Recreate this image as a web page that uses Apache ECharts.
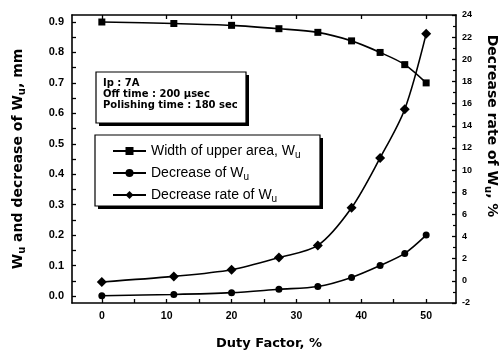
<!DOCTYPE html>
<html><head><meta charset="utf-8">
<script src="https://cdn.jsdelivr.net/npm/echarts@6/dist/echarts.min.js"></script>
<style>html,body{margin:0;padding:0;background:#fff}#c{width:502px;height:350px}</style>
</head><body><div id="c"></div>
<script>
const duty = [0, 11.1, 20, 27.3, 33.3, 38.5, 42.9, 46.7, 50];
const widthUpper = [0.9, 0.895, 0.889, 0.878, 0.866, 0.838, 0.80, 0.76, 0.70];
const decreaseW = [0.001, 0.005, 0.011, 0.022, 0.031, 0.061, 0.10, 0.14, 0.20];
const decreaseRate = [-0.1, 0.4, 1.0, 2.1, 3.2, 6.6, 11.1, 15.5, 22.3];
const xLabels = [0, 10, 20, 30, 40, 50];
const xTicks = [0, 5, 10, 15, 20, 25, 30, 35, 40, 45, 50];
const leftLabels = [0, 0.1, 0.2, 0.3, 0.4, 0.5, 0.6, 0.7, 0.8, 0.9];
const leftTicks = [0, 0.05, 0.1, 0.15, 0.2, 0.25, 0.3, 0.35, 0.4, 0.45, 0.5, 0.55, 0.6, 0.65, 0.7, 0.75, 0.8, 0.85, 0.9];
const seriesNames = ['Width of upper area, W', 'Decrease of W', 'Decrease rate of W'];
const infoLines = ['Ip : 7A', 'Off time : 200 \u00b5sec', 'Polishing time : 180 sec'];

const LIB = 'Liberation Sans, Arial, sans-serif';
const DJ = 'DejaVu Sans, sans-serif';
const pair = a => duty.map((x, i) => [x, a[i]]);
const chart = echarts.init(document.getElementById('c'));
const lineW = 1.6;
const tickStyle = {color:'#000', width:1.3};
const subT = {s:{fontSize:10, padding:[8,0,0,0], fontFamily:DJ, fontWeight:'bold', color:'#000'}};
const subN = {s:{fontSize:10, padding:[8,0,0,0], fontFamily:LIB, color:'#000'}};

function shadowBox(x, y, w, h){
  return [
    {type:'rect', z:1, shape:{x:x+3, y:y+3, width:w, height:h}, style:{fill:'#000'}},
    {type:'rect', z:2, shape:{x:x, y:y, width:w, height:h}, style:{fill:'#fff', stroke:'#000', lineWidth:1.2}}
  ];
}

const option = {
  animation:false,
  grid:{left:72, right:46, top:15, bottom:47, containLabel:false, outerBoundsMode:'none'},
  xAxis:[
    {type:'value', min:-4.6, max:54.6, position:'bottom', splitLine:{show:false},
      axisLine:{show:true, onZero:false, lineStyle:{color:'#000', width:lineW}},
      axisTick:{show:true, inside:true, length:4, customValues:xTicks, lineStyle:tickStyle},
      axisLabel:{show:true, margin:8, customValues:xLabels, color:'#000', fontFamily:LIB, fontWeight:'bold', fontSize:10.5},
      name:'Duty Factor, %', nameLocation:'middle', nameGap:34,
      nameTextStyle:{color:'#000', fontFamily:DJ, fontWeight:'bold', fontSize:13, padding:[0,0,0,10]}},
    {type:'value', min:-4.6, max:54.6, position:'top', splitLine:{show:false},
      axisLine:{show:true, onZero:false, lineStyle:{color:'#000', width:lineW}},
      axisTick:{show:true, inside:true, length:4, customValues:xLabels, lineStyle:tickStyle},
      axisLabel:{show:false}}
  ],
  yAxis:[
    {type:'value', position:'left', min:-0.023, max:0.923, splitLine:{show:false},
      axisLine:{show:true, onZero:false, lineStyle:{color:'#000', width:lineW}},
      axisTick:{show:true, inside:true, length:4, customValues:leftTicks, lineStyle:tickStyle},
      axisLabel:{margin:8, customValues:leftLabels, formatter:v=>v.toFixed(1), color:'#000', fontFamily:LIB, fontWeight:'bold', fontSize:11},
      name:'W{s|u} and decrease of W{s|u}, mm', nameLocation:'middle', nameGap:45,
      nameTextStyle:{color:'#000', fontFamily:DJ, fontWeight:'bold', fontSize:14, rich:subT}},
    {type:'value', position:'right', min:-2, max:24, interval:2, splitLine:{show:false},
      axisLine:{show:true, onZero:false, lineStyle:{color:'#000', width:lineW}},
      axisTick:{show:true, inside:true, length:4, lineStyle:tickStyle},
      minorTick:{show:true, splitNumber:2, length:3, lineStyle:{color:'#000', width:1.2}},
      axisLabel:{margin:6, color:'#000', fontFamily:LIB, fontWeight:'bold', fontSize:9},
      name:'Decrease rate of W{s|u}, %', nameLocation:'middle', nameGap:27, nameRotate:-90,
      nameTextStyle:{color:'#000', fontFamily:DJ, fontWeight:'bold', fontSize:14, rich:subT, padding:[0,66,0,0]}}
  ],
  legend:{
    orient:'vertical', left:95, top:136, z:5,
    padding:[8, 18, 7, 17], itemGap:6, itemWidth:33, itemHeight:10,
    backgroundColor:'transparent', borderWidth:0,
    data:seriesNames,
    formatter: n => n + '{s|u}',
    textStyle:{color:'#000', fontFamily:LIB, fontSize:14, rich:subN}
  },
  graphic:[
    ...shadowBox(95, 135, 225, 71),
    ...shadowBox(96, 72, 150, 51),
    {type:'text', z:3, x:103, y:83, style:{text:infoLines[0], fill:'#000', font:'bold 10px ' + DJ, verticalAlign:'middle'}},
    {type:'text', z:3, x:103, y:94.7, style:{text:infoLines[1], fill:'#000', font:'bold 10px ' + DJ, verticalAlign:'middle'}},
    {type:'text', z:3, x:103, y:105.7, style:{text:infoLines[2], fill:'#000', font:'bold 10px ' + DJ, verticalAlign:'middle'}}
  ],
  series:[
    {name:seriesNames[0], type:'line', xAxisIndex:0, yAxisIndex:0, data:pair(widthUpper), smooth:0.3,
      symbol:'rect', symbolSize:7, itemStyle:{color:'#000'}, lineStyle:{color:'#000', width:lineW}},
    {name:seriesNames[1], type:'line', xAxisIndex:0, yAxisIndex:0, data:pair(decreaseW), smooth:0.3,
      symbol:'circle', symbolSize:7, itemStyle:{color:'#000'}, lineStyle:{color:'#000', width:lineW}},
    {name:seriesNames[2], type:'line', xAxisIndex:0, yAxisIndex:1, data:pair(decreaseRate), smooth:0.3,
      symbol:'diamond', symbolSize:10, itemStyle:{color:'#000'}, lineStyle:{color:'#000', width:lineW}}
  ]
};
chart.setOption(option);
</script></body></html>
